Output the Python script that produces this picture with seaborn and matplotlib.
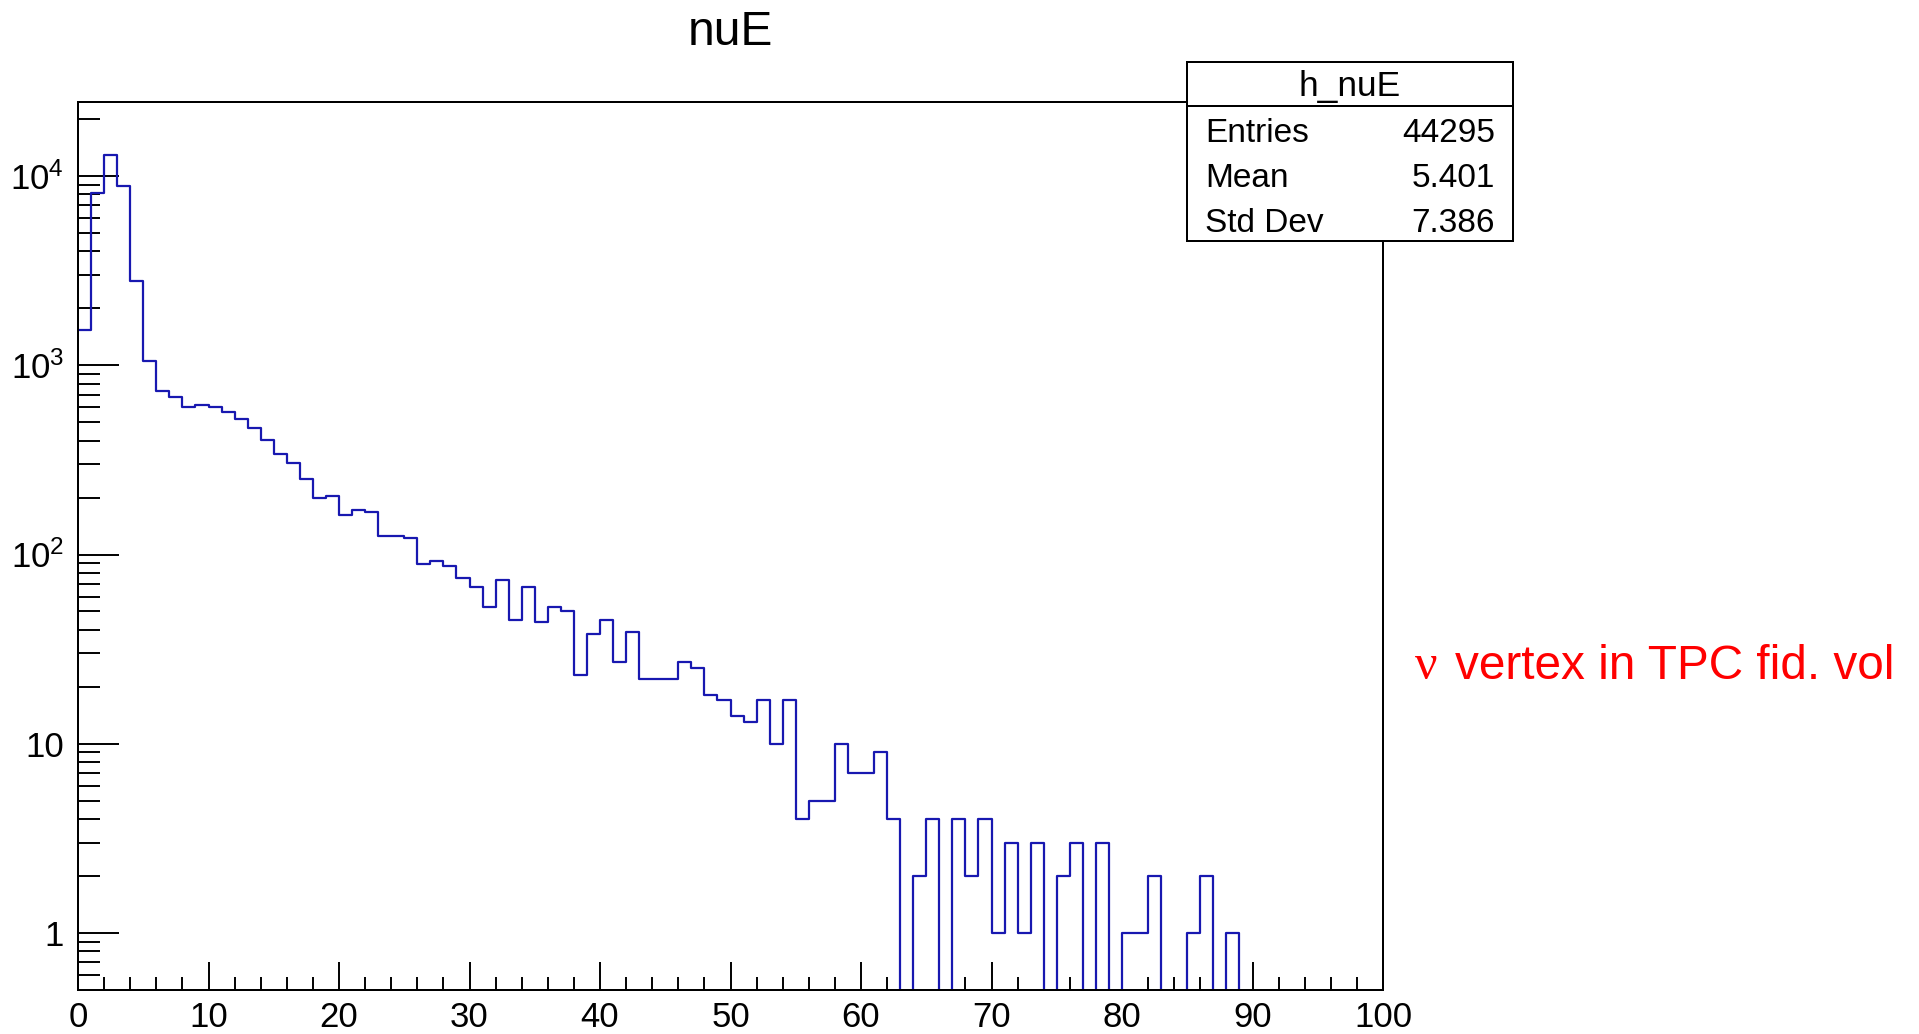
import numpy as np
import pandas as pd
import matplotlib
matplotlib.use("Agg")
import matplotlib.pyplot as plt
import seaborn as sns
from matplotlib.ticker import FixedLocator, FixedFormatter, NullFormatter
from matplotlib.patches import Rectangle
from matplotlib.lines import Line2D

# ---------------- data ----------------
bin_edges = list(range(0, 101, 1))
counts = [
    1536, 8090, 12900, 8890, 2785, 1058, 731, 677, 600, 620,
    602, 569, 520, 464, 403, 339, 304, 250, 198, 204,
    162, 172, 167, 125, 125, 123, 89, 92, 87, 75,
    67, 53, 73, 45, 67, 44, 53, 50, 23, 38,
    45, 27, 39, 22, 22, 22, 27, 25, 18, 17,
    14, 13, 17, 10, 17, 4, 5, 5, 10, 7,
    7, 9, 4, 0, 2, 4, 0, 4, 2, 4,
    1, 3, 1, 3, 0, 2, 3, 0, 3, 0,
    1, 1, 2, 0, 0, 1, 2, 0, 1, 0,
    0, 0, 0, 0, 0, 0, 0, 0, 0, 0,
]
title = "nuE"
hist_name = "h_nuE"
stat_labels = ["Entries", "Mean", "Std Dev"]
stat_values = ["44295", "5.401", "7.386"]
x_ticks = [0, 10, 20, 30, 40, 50, 60, 70, 80, 90, 100]
x_tick_labels = ["0", "10", "20", "30", "40", "50", "60", "70", "80", "90", "100"]
y_major = [1, 10, 100, 1000, 10000]
y_tick_labels = ["1", "10", r"$\mathregular{10^{2}}$", r"$\mathregular{10^{3}}$",
                 r"$\mathregular{10^{4}}$"]
nu_symbol = "ν"
annotation = "vertex in TPC fid. vol"

# ---------------- style ----------------
sns.set_style("white")
plt.rcParams['font.family'] = ['Liberation Sans', 'DejaVu Sans']
plt.rcParams['mathtext.fontset'] = 'custom'
plt.rcParams['mathtext.rm'] = 'Liberation Sans'
plt.rcParams['mathtext.it'] = 'Liberation Sans:italic'
plt.rcParams['mathtext.bf'] = 'Liberation Sans:bold'
plt.rcParams['text.color'] = 'black'
plt.rcParams['xtick.color'] = 'black'
plt.rcParams['ytick.color'] = 'black'
plt.rcParams['xtick.labelcolor'] = 'black'
plt.rcParams['ytick.labelcolor'] = 'black'

W, H = 1919, 1034
LINE = '#1818b0'

fig = plt.figure(figsize=(W / 100, H / 100), dpi=100)
fig.patch.set_facecolor('white')
ax = fig.add_axes([78 / W, 1 - 990 / H, (1383 - 78) / W, (990 - 101.7) / H])

centers = [e + 0.5 for e in bin_edges[:-1]]
cnt = np.array(counts, dtype=float)
heights = np.where(cnt > 0, cnt, 1e-3)  # empty bins drop to the axis floor
df = pd.DataFrame({"E": centers, "w": heights})
sns.histplot(data=df, x="E", weights="w", bins=bin_edges, element="step",
             fill=False, color=LINE, linewidth=1.6, ax=ax)
ax.set_yscale('log')
ax.set_xlim(0, 100)
ax.set_ylim(0.5, 24700)
ax.set_xlabel("")
ax.set_ylabel("")

# ticks
ax.xaxis.set_major_locator(FixedLocator(x_ticks))
ax.xaxis.set_major_formatter(FixedFormatter(x_tick_labels))
ax.xaxis.set_minor_locator(FixedLocator(list(range(0, 101, 2))))
ax.xaxis.set_minor_formatter(NullFormatter())
ax.yaxis.set_major_locator(FixedLocator(y_major))
ax.yaxis.set_major_formatter(FixedFormatter(y_tick_labels))
y_minor = [0.6, 0.7, 0.8, 0.9] + [k * 10 ** d for d in range(4) for k in range(2, 10)] + [20000]
ax.yaxis.set_minor_locator(FixedLocator(y_minor))
ax.yaxis.set_minor_formatter(NullFormatter())

ax.tick_params(axis='x', which='major', direction='in', length=20, width=1.4,
               labelsize=25, pad=8, top=False, bottom=True, color='black', labelcolor='black')
ax.tick_params(axis='x', which='minor', direction='in', length=9.7, width=1.4,
               top=False, bottom=True, color='black')
ax.tick_params(axis='y', which='major', direction='in', length=29.5, width=1.4,
               labelsize=25, pad=10, right=False, left=True, color='black', labelcolor='black')
ax.tick_params(axis='y', which='minor', direction='in', length=15.8, width=1.4,
               right=False, left=True, color='black')
for s in ax.spines.values():
    s.set_linewidth(1.44)
    s.set_color('black')
ax.grid(False)

# title
fig.text(730 / W, 1 - 45 / H, title, ha='center', va='baseline', fontsize=34.5, color='black')

# stats box
bx0, bx1, by0, by1 = 1187, 1513, 62, 241
box = Rectangle((bx0 / W, 1 - by1 / H), (bx1 - bx0) / W, (by1 - by0) / H,
                transform=fig.transFigure, facecolor='white', edgecolor='black',
                linewidth=1.44, zorder=10)
fig.add_artist(box)
fig.add_artist(Line2D([bx0 / W, bx1 / W], [1 - 106 / H, 1 - 106 / H],
                      transform=fig.transFigure, color='black', linewidth=1.44, zorder=11))
fig.text((bx0 + bx1) / 2 / W, 1 - 96 / H, hist_name, ha='center', va='baseline',
         fontsize=25.5, zorder=12, color='black')
baselines = [142.3, 187.0, 231.7]
for lab, val, b in zip(stat_labels, stat_values, baselines):
    fig.text(1205 / W, 1 - b / H, lab, ha='left', va='baseline', fontsize=24,
             zorder=12, color='black')
    fig.text(1495 / W, 1 - b / H, val, ha='right', va='baseline', fontsize=24,
             zorder=12, color='black')

# red annotation
fig.text(1415 / W, 1 - 679.3 / H, nu_symbol, ha='left', va='baseline', fontsize=36,
         color='red', family=['Liberation Serif', 'DejaVu Serif'])
fig.text(1455 / W, 1 - 679.3 / H, annotation, ha='left', va='baseline', fontsize=34.4,
         color='red')

fig.savefig('out.png', dpi=100)
